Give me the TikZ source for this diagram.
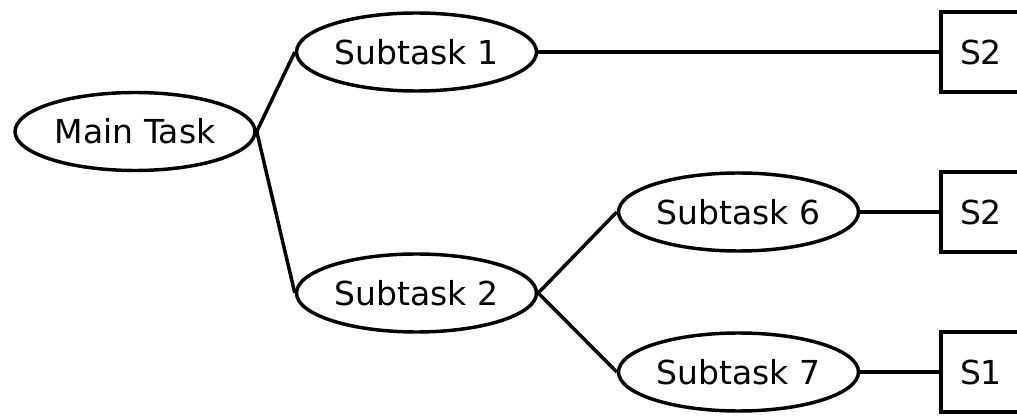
\documentclass[tikz,border=0pt]{standalone}
\usepackage{fontspec}
\setmainfont{DejaVu Sans}
\usepackage{tikz}
\usetikzlibrary{shapes.geometric}

\begin{document}
\begin{tikzpicture}
        % 坐标按像素给出: x 向右, y 向下
        [x=0.75pt, y=-0.75pt,
        TaskNode/.style={ellipse, draw=black, line width=2.6pt, minimum width=180pt, minimum height=58.5pt, inner sep=0pt, font=\fontsize{24.75}{30}\selectfont},
        ResNode/.style={rectangle, draw=black, line width=2.6pt, minimum width=60pt, minimum height=60pt, inner sep=0pt, font=\fontsize{24.75}{30}\selectfont},
        Link/.style={line width=2.6pt}]

        % 画布大小
        \useasboundingbox (0,0) rectangle (1017,416);

        % 主任务
        \node[TaskNode] (main) at (135,131.5) {Main Task};

        % 子任务
        \node[TaskNode] (sub_1) at (416.5,52) {Subtask 1};
        \node[TaskNode] (sub_2) at (416.5,293) {Subtask 2};
        \node[TaskNode] (sub_6) at (738.5,212) {Subtask 6};
        \node[TaskNode] (sub_7) at (738.5,372) {Subtask 7};

        % 结果方框
        \node[ResNode] (res_1) at (981,52) {S2};
        \node[ResNode] (res_6) at (981,212) {S2};
        \node[ResNode] (res_7) at (981,372) {S1};

        % 主任务到子任务
        \foreach \x in {1,2}
            \draw[Link](main.east)--(sub_\x.west);

        % 子任务 2 的分支
        \foreach \x in {6,7}
            \draw[Link](sub_2.east)--(sub_\x.west);

        % 子任务到结果
        \foreach \x in {1,6,7}
            \draw[Link](sub_\x.east)--(res_\x.west);
\end{tikzpicture}
\end{document}
